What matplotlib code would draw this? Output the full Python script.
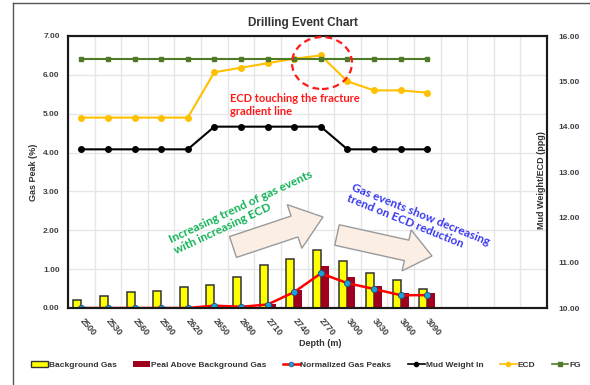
import matplotlib
matplotlib.use("Agg")
import matplotlib.pyplot as plt
import numpy as np
from matplotlib.patches import Polygon, Ellipse, Patch
from matplotlib.lines import Line2D

plt.rcParams['font.family'] = ['Liberation Sans', 'DejaVu Sans']

# depth stations and measurements
depths = ['2500', '2530', '2560', '2590', '2620', '2650', '2680',
          '2710', '2740', '2770', '3000', '3030', '3060', '3090']
background_gas = [0.20, 0.30, 0.40, 0.45, 0.55, 0.60, 0.80,
                  1.10, 1.25, 1.50, 1.20, 0.90, 0.72, 0.50]
peak_above_bg = [0.0, 0.0, 0.0, 0.0, 0.0, 0.03, 0.0,
                 0.10, 0.46, 1.09, 0.80, 0.57, 0.39, 0.39]
norm_gas_peaks = [0.0, 0.0, 0.0, 0.0, 0.0, 0.06, 0.03,
                  0.09, 0.41, 0.89, 0.64, 0.49, 0.33, 0.33]
mud_weight = [13.5, 13.5, 13.5, 13.5, 13.5, 14.0, 14.0,
              14.0, 14.0, 14.0, 13.5, 13.5, 13.5, 13.5]
ecd = [14.2, 14.2, 14.2, 14.2, 14.2, 15.2, 15.3,
       15.4, 15.5, 15.57, 15.0, 14.8, 14.8, 14.75]
fg = [15.5] * 14
n_slots = 18  # empty slots to the right of the last depth

W, H = 590, 385
fig = plt.figure(figsize=(W / 100, H / 100), dpi=100)


def px(x, y):
    return (x / W, 1 - y / H)


ax = fig.add_axes([68 / W, 1 - 308 / H, (547 - 68) / W, (308 - 36) / H])
ax2 = ax.twinx()

tick_kw = dict(fontsize=6, fontweight='bold', color='#404040')
x = np.arange(len(depths))
bw = 0.3

ax.bar(x - bw / 2, background_gas, bw, color='#ffff00', edgecolor='#333333',
       linewidth=1.1, label='Background Gas', zorder=3)
ax.bar(x + bw / 2, peak_above_bg, bw, color='#a0001e', edgecolor='none',
       label='Peal Above Background Gas', zorder=3)
ax.plot(x, norm_gas_peaks, color='#ff0000', lw=1.8, marker='o', ms=4.5,
        mfc='#1ea0d8', mec='#1f4e79', mew=0.6, label='Normalized Gas Peaks', zorder=4)

ax.set_xlim(-0.5, n_slots - 0.5)
ax.set_ylim(0, 7)
ax.set_yticks(np.arange(0, 8))
ax.set_yticklabels([f'{v:.2f}' for v in range(8)], **tick_kw)
ax.set_xticks(x)
ax.set_xticklabels(depths, rotation=-50, ha='left', va='center',
                   rotation_mode='anchor', fontsize=6.5, fontweight='bold', color='#404040')
ax.set_xticks(np.arange(-0.5, n_slots), minor=True)
ax.tick_params(axis='both', which='both', length=0)
ax.tick_params(axis='x', pad=8)
ax.tick_params(axis='y', pad=6)
ax.grid(axis='x', which='minor', color='#e6e6e6', lw=1.0, zorder=0)
ax.grid(axis='y', which='major', color='#e6e6e6', lw=1.0, zorder=0)
ax.set_axisbelow(True)

ax2.plot(x, mud_weight, color='black', lw=1.5, marker='o', ms=4, label='Mud Weight In')
ax2.plot(x, ecd, color='#ffc000', lw=1.5, marker='o', ms=4, label='ECD')
ax2.plot(x, fg, color='#4f7a28', lw=1.5, marker='s', ms=2.5, label='FG')
ax2.set_ylim(10, 16)
ax2.set_yticks(np.arange(10, 17))
ax2.set_yticklabels([f'{v:.2f}' for v in range(10, 17)], **tick_kw)
ax2.tick_params(axis='y', length=0, pad=8)

for a in (ax, ax2):
    for s in a.spines.values():
        s.set_linewidth(1.5)
        s.set_color('#1a1a1a')

fig.text(*px(303, 23), 'Drilling Event Chart', ha='center', va='center',
         fontsize=8.5, fontweight='bold', color='#333333')
fig.text(*px(33, 172), 'Gas Peak (%)', rotation=90, ha='center', va='center',
         fontsize=6.5, fontweight='bold', color='#333333')
fig.text(*px(541, 180), 'Mud Weight/ECD (ppg)', rotation=90, ha='center', va='center',
         fontsize=6.5, fontweight='bold', color='#333333')
fig.text(*px(320, 343), 'Depth (m)', ha='center', va='center',
         fontsize=6.5, fontweight='bold', color='#333333')


def block_arrow(tail, tip, shaft_w, head_w, head_len):
    t = np.array(tail, float)
    p = np.array(tip, float)
    d = (p - t) / np.linalg.norm(p - t)
    n = np.array([-d[1], d[0]])
    b = p - d * head_len
    pts = [t + n * shaft_w / 2, b + n * shaft_w / 2, b + n * head_w / 2, p,
           b - n * head_w / 2, b - n * shaft_w / 2, t - n * shaft_w / 2]
    return Polygon([px(*q) for q in pts], closed=True, transform=fig.transFigure,
                   facecolor='#fbeee5', edgecolor='#9a9a9a', lw=1.0, zorder=5)


fig.patches.append(block_arrow((233, 247), (323, 217), 22, 46, 30))
fig.patches.append(block_arrow((337, 235), (432, 256), 21, 42, 26))

fig.patches.append(Ellipse(px(322, 63), 60 / W, 52 / H, transform=fig.transFigure,
                           fill=False, edgecolor='#ff1a1a', lw=1.6, ls=(0, (3, 2)), zorder=6))

ann_font = ['Lato', 'DejaVu Sans']
fig.text(*px(230, 105), 'ECD touching the fracture\ngradient line', ha='left', va='center',
         fontsize=8, fontweight='bold', color='#ff1a1a', family=ann_font,
         linespacing=1.25, zorder=7)
fig.text(*px(243, 212), 'Increasing trend of gas events\nwith increasing ECD',
         ha='center', va='center', rotation=25, rotation_mode='anchor',
         multialignment='left', fontsize=8.5, fontweight='bold', color='#12b356',
         family=ann_font, linespacing=1.1, zorder=7)
fig.text(*px(418, 220), 'Gas events show decreasing\ntrend on ECD reduction',
         ha='center', va='center', rotation=-22, rotation_mode='anchor',
         multialignment='left', fontsize=8.5, fontweight='bold', color='#3838f0',
         family=ann_font, linespacing=1.1, zorder=7)

# outer frame lines
fig.lines.append(Line2D([13 / W, 13 / W], [0, 1 - 3 / H], transform=fig.transFigure,
                        color='#555555', lw=1.0))
fig.lines.append(Line2D([13 / W, 1], [1 - 3 / H, 1 - 3 / H], transform=fig.transFigure,
                        color='#555555', lw=1.0))

handles = [
    Patch(facecolor='#ffff00', edgecolor='#333333', lw=1.0),
    Patch(facecolor='#a0001e', edgecolor='none'),
    Line2D([], [], color='#ff0000', lw=1.8, marker='o', ms=3.5, mfc='#1ea0d8', mec='#1f4e79', mew=0.5),
    Line2D([], [], color='black', lw=1.2, marker='o', ms=3),
    Line2D([], [], color='#ffc000', lw=1.2, marker='o', ms=3),
    Line2D([], [], color='#4f7a28', lw=1.2, marker='s', ms=2.5),
]
labels = ['Background Gas', 'Peal Above Background Gas', 'Normalized Gas Peaks',
          'Mud Weight In', 'ECD', 'FG']
leg = fig.legend(handles, labels, loc='center', bbox_to_anchor=px(306, 365), ncol=6,
                 frameon=False, fontsize=6, handlelength=2.0, handleheight=0.6,
                 handletextpad=0.1, columnspacing=2.0)
for t in leg.get_texts():
    t.set_color('#333333')
    t.set_fontweight('bold')

fig.savefig('out.png', dpi=100)
